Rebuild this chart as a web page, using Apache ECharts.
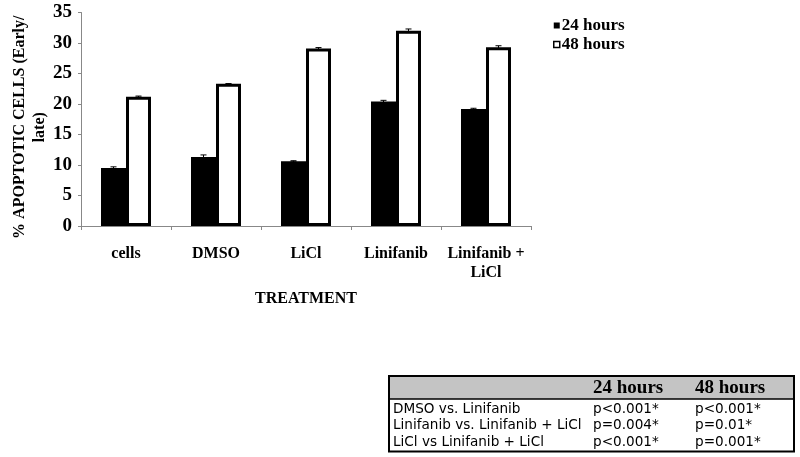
<!DOCTYPE html>
<html>
<head>
<meta charset="utf-8">
<script src="https://cdn.jsdelivr.net/npm/echarts@6/dist/echarts.min.js"></script>
<style>html,body{margin:0;padding:0;background:#fff}#c{width:800px;height:457px}</style>
</head>
<body>
<div id="c"></div>
<script>
var categories = ['cells', 'DMSO', 'LiCl', 'Linifanib', 'Linifanib +\nLiCl'];
var seriesNames = ['24 hours', '48 hours'];
var h24 = [9.5, 11.3, 10.6, 20.4, 19.2];
var h48 = [21.2, 23.3, 29.1, 32.0, 29.3];
var err24 = [0.2, 0.35, 0.1, 0.2, 0.1];
var err48 = [0.1, 0.05, 0.15, 0.3, 0.25];
var yTicks = [0, 5, 10, 15, 20, 25, 30, 35];
var yAxisTitle = '% APOPTOTIC CELLS (Early/\nlate)';
var xAxisTitle = 'TREATMENT';
var tableHeader = ['', '24 hours', '48 hours'];
var tableRows = [
  ['DMSO vs. Linifanib', 'p<0.001*', 'p<0.001*'],
  ['Linifanib vs. Linifanib + LiCl', 'p=0.004*', 'p=0.01*'],
  ['LiCl vs Linifanib + LiCl', 'p<0.001*', 'p=0.001*']
];

var SERIF = '"Liberation Serif", "Times New Roman", serif';
var BAR_W = 25;

function errSeries(vals, errs, offset) {
  return {
    type: 'custom',
    silent: true,
    z: 10,
    data: vals.map(function (v, i) { return [i, v - errs[i], v + errs[i]]; }),
    renderItem: function (params, api) {
      var lo = api.coord([api.value(0), api.value(1)]);
      var hi = api.coord([api.value(0), api.value(2)]);
      var x = lo[0] + offset;
      var cap = 3;
      var style = { stroke: '#000', lineWidth: 1 };
      return {
        type: 'group',
        children: [
          { type: 'line', shape: { x1: x, y1: lo[1], x2: x, y2: hi[1] }, style: style },
          { type: 'line', shape: { x1: x - cap, y1: hi[1], x2: x + cap, y2: hi[1] }, style: style },
          { type: 'line', shape: { x1: x - cap, y1: lo[1], x2: x + cap, y2: lo[1] }, style: style }
        ]
      };
    }
  };
}

// table graphics
var tX = 389, tY = 376, tW = 405, headH = 23, rowH = 16.5;
var colX = [tX + 4, 593, 695];
var tH = headH + rowH * tableRows.length + 3;
var tableEls = [
  { type: 'rect', shape: { x: tX, y: tY, width: tW, height: headH }, style: { fill: '#c4c4c4' }, z: 1 },
  { type: 'rect', shape: { x: tX, y: tY, width: tW, height: tH }, style: { fill: 'none', stroke: '#000', lineWidth: 2 }, z: 3 },
  { type: 'line', shape: { x1: tX, y1: tY + headH, x2: tX + tW, y2: tY + headH }, style: { stroke: '#000', lineWidth: 1.5 }, z: 3 }
];
tableHeader.forEach(function (h, j) {
  if (!h) return;
  tableEls.push({ type: 'text', x: colX[j], y: tY + headH / 2 + 1, z: 4,
    style: { text: h, font: 'bold 19px ' + SERIF, fill: '#000', verticalAlign: 'middle', textAlign: 'left' } });
});
tableRows.forEach(function (r, i) {
  r.forEach(function (cell, j) {
    tableEls.push({ type: 'text', x: colX[j], y: tY + headH + rowH * i + rowH / 2 + 2, z: 4,
      style: { text: cell, font: '13.6px "DejaVu Sans", Verdana, sans-serif', fill: '#000', verticalAlign: 'middle', textAlign: 'left' } });
  });
});

var chart = echarts.init(document.getElementById('c'), null, { renderer: 'canvas' });
chart.setOption({
  animation: false,
  backgroundColor: '#fff',
  grid: { left: 81, right: 269, top: 12.5, bottom: 231, containLabel: false, outerBoundsMode: 'none' },
  legend: {
    orient: 'vertical',
    left: 548,
    top: 12,
    itemWidth: 6,
    itemHeight: 6,
    itemGap: 2,
    textStyle: { fontFamily: SERIF, fontWeight: 'bold', fontSize: 17, color: '#000', padding: [0, 0, 0, -3] },
    data: [
      { name: seriesNames[0], icon: 'rect', itemStyle: { color: '#000', borderWidth: 0 } },
      { name: seriesNames[1], icon: 'rect', itemStyle: { color: '#fff', borderColor: '#000', borderWidth: 1.5 } }
    ]
  },
  xAxis: {
    type: 'category',
    data: categories,
    name: xAxisTitle,
    nameLocation: 'middle',
    nameGap: 65,
    nameMoveOverlap: false,
    nameTextStyle: { fontFamily: SERIF, fontWeight: 'bold', fontSize: 16, color: '#000' },
    axisLine: { lineStyle: { color: '#888', width: 1 } },
    axisTick: { show: true, length: 4, inside: false, lineStyle: { color: '#888' } },
    axisLabel: { interval: 0, fontFamily: SERIF, fontWeight: 'bold', fontSize: 16, color: '#000', margin: 18, lineHeight: 19 }
  },
  yAxis: {
    type: 'value',
    min: 0,
    max: 35,
    interval: 5,
    name: yAxisTitle,
    nameLocation: 'middle',
    nameRotate: 90,
    nameGap: 31,
    nameMoveOverlap: false,
    nameTextStyle: { fontFamily: SERIF, fontWeight: 'bold', fontSize: 16, color: '#000', lineHeight: 20, padding: [0, 16, 0, 0] },
    axisLine: { show: true, lineStyle: { color: '#888', width: 1 } },
    axisTick: { show: true, length: 3, lineStyle: { color: '#888' } },
    splitLine: { show: false },
    axisLabel: {
      fontFamily: SERIF, fontWeight: 'bold', fontSize: 19, color: '#000', margin: 9,
      formatter: function (v) { return yTicks.indexOf(v) >= 0 ? String(v) : ''; }
    }
  },
  series: [
    { name: seriesNames[0], type: 'bar', data: h24, barWidth: BAR_W, barGap: '0%',
      itemStyle: { color: '#000' } },
    { name: seriesNames[1], type: 'bar', data: h48, barWidth: BAR_W, barGap: '0%',
      itemStyle: { color: '#fff', borderColor: '#000', borderWidth: 3 } },
    errSeries(h24, err24, -BAR_W / 2),
    errSeries(h48, err48, BAR_W / 2)
  ],
  graphic: tableEls
});
</script>
</body>
</html>
